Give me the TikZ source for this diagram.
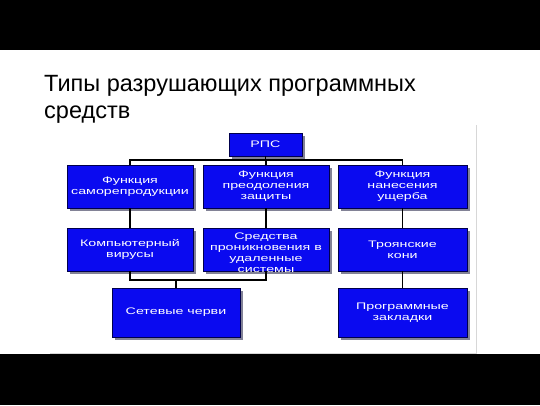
\documentclass[tikz,border=0pt]{standalone}
\usepackage{fontspec}
\setmainfont{Liberation Sans}
\newfontfamily\boxfont[FakeStretch=1.5]{Liberation Sans}
\usetikzlibrary{shadows}
\definecolor{boxblue}{RGB}{10,10,240}
\definecolor{shadowgray}{RGB}{130,130,150}
\definecolor{framegray}{RGB}{215,215,215}
\tikzset{
  box/.style={draw=black!70!blue, line width=0.5pt, fill=boxblue, text=white,
    align=center, inner sep=0pt, font=\boxfont\fontsize{9.5}{11}\selectfont,
    drop shadow={shadow xshift=3pt, shadow yshift=-3pt, fill=shadowgray, opacity=1}},
  link/.style={draw=black, line width=1.4pt},
}
\begin{document}
\begin{tikzpicture}[x=1pt,y=-1pt]
\useasboundingbox (0,0) rectangle (540,405);
\fill[white] (0,0) rectangle (540,405);
\fill[black] (0,0) rectangle (540,50);
\fill[black] (0,354) rectangle (540,405);
\draw[framegray, line width=1pt] (50,353) -- (476,353) -- (476,125);
\node[anchor=base west, align=left, font=\fontsize{23.5}{27}\selectfont, inner sep=0pt]
  (title) at (44,118) {Типы разрушающих программных\\средств};
% boxes
\node[box, minimum width=73pt, minimum height=23pt] (rps) at (265.5,144.5) {РПС};
\node[box, minimum width=126pt, minimum height=43pt] (a1) at (130,186.5) {Функция\\саморепродукции};
\node[box, minimum width=126pt, minimum height=43pt] (b1) at (266,186.5) {Функция\\преодоления\\защиты};
\node[box, minimum width=129pt, minimum height=43pt] (c1) at (402.5,186.5) {Функция\\нанесения\\ущерба};
\node[box, minimum width=126pt, minimum height=43pt] (a2) at (130,249.5) {Компьютерный\\вирусы};
\node[box, minimum width=126pt, minimum height=43pt] (b2) at (266,249.5) {};
\node[box, minimum width=129pt, minimum height=43pt] (c2) at (402.5,249.5) {Троянские\\кони};
\node[box, minimum width=128pt, minimum height=49pt] (a3) at (176,312.5) {Сетевые черви};
\node[box, minimum width=129pt, minimum height=49pt] (c3) at (402.5,312.5) {Программные\\закладки};
\begin{scope}
\clip (b2.north west) rectangle (b2.south east);
\node[anchor=north, text=white, align=center, inner sep=0pt,
  font=\boxfont\fontsize{9.5}{11}\selectfont] (b2t) at ([yshift=-5pt]b2.north)
  {Средства\\проникновения в\\удаленные\\системы};
\end{scope}
% connectors
\coordinate (bar1) at (265.5,160);
\draw[link] (rps.south) -- (bar1);
\draw[link] (a1.north) |- (bar1) -| (c1.north);
\draw[link] (bar1) -- (bar1 -| b1.north) -- (b1.north);
\draw[link] (a1.south) -- (a2.north);
\draw[link] (b1.south) -- (b2.north);
\draw[link] (c1.south) -- (c2.north);
\coordinate (bar2) at (176,280);
\draw[link] (a2.south) |- (bar2) -| (b2.south);
\draw[link] (bar2) -- (a3.north);
\draw[link] (c2.south) -- (c3.north);
\end{tikzpicture}
\end{document}
